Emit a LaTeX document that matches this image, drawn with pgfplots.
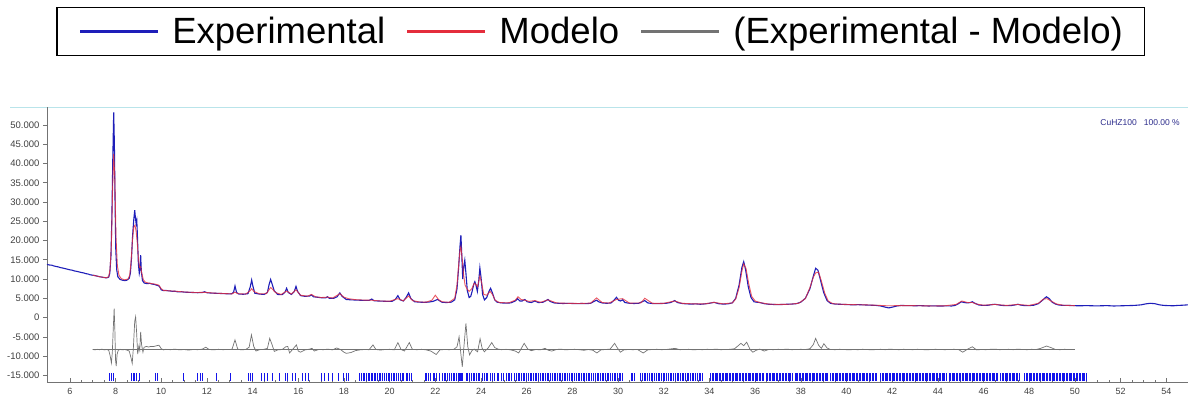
\documentclass[border=0pt]{standalone}
\usepackage{pgfplots}
\usepackage{pgfplotstable}
\pgfplotsset{compat=1.18}
\usepackage{fontspec}
\setmainfont{Liberation Sans}

\definecolor{expblue}{RGB}{30,30,185}
\definecolor{modred}{RGB}{228,45,60}
\definecolor{difgray}{RGB}{115,115,115}
\definecolor{reflblue}{RGB}{20,20,235}
\definecolor{panelcyan}{RGB}{185,228,234}
\definecolor{tagnavy}{RGB}{45,45,140}
\definecolor{legblue}{RGB}{60,70,255}
\definecolor{legred}{RGB}{255,60,60}

% observed pattern (2theta, counts)
\pgfplotstableread{
x y
5.0 13800
5.1 13650
5.2 13600
5.3 13400
5.4 13250
5.5 13150
5.6 12950
5.7 12850
5.8 12700
5.9 12550
6.0 12400
6.1 12300
6.2 12100
6.3 12000
6.4 11850
6.5 11700
6.6 11600
6.7 11400
6.8 11300
6.9 11100
7.0 11000
7.1 10900
7.2 10750
7.3 10600
7.4 10500
7.5 10400
7.6 10300
7.7 10500
7.75 11500
7.8 16000
7.84 26000
7.88 41000
7.92 53300
7.95 45000
7.98 30000
8.01 18000
8.05 12500
8.1 10600
8.2 9900
8.3 9700
8.4 9600
8.5 9700
8.6 10200
8.65 11500
8.7 15500
8.75 21500
8.8 25500
8.84 27900
8.87 26000
8.9 24500
8.93 25300
8.96 21000
9.0 14000
9.04 11500
9.07 12500
9.1 16200
9.13 12000
9.18 9600
9.25 9000
9.3 8900
9.4 8800
9.5 8900
9.6 8700
9.7 8600
9.8 8400
9.9 8200
9.95 7800
10.0 7200
10.1 7000
10.2 7050
10.3 6950
10.4 6900
10.5 6800
10.6 6850
10.7 6700
10.8 6650
10.9 6700
11.0 6600
11.2 6550
11.4 6500
11.6 6450
11.8 6500
11.9 6700
12.0 6450
12.2 6350
12.4 6300
12.6 6250
12.8 6200
13.0 6150
13.1 6200
13.17 6600
13.23 8200
13.3 6500
13.4 6100
13.6 6050
13.8 6200
13.9 8000
13.96 9750
14.02 8000
14.1 6300
14.3 6100
14.5 6000
14.65 6500
14.72 8500
14.79 9900
14.86 8600
14.95 6900
15.1 6000
15.3 5950
15.42 6600
15.49 7600
15.56 6500
15.7 6000
15.82 6700
15.9 8100
15.97 6800
16.1 5700
16.3 5500
16.5 5600
16.58 5900
16.66 5400
16.8 5300
17.0 5150
17.2 5100
17.28 5400
17.36 5000
17.55 5000
17.7 5400
17.82 6400
17.92 5500
18.1 4700
18.3 4600
18.5 4550
18.7 4500
18.9 4450
19.1 4450
19.22 4800
19.32 4350
19.5 4300
19.7 4250
19.9 4200
20.1 4200
20.25 4700
20.36 5700
20.46 4600
20.6 4300
20.72 5200
20.83 6400
20.93 4900
21.1 4100
21.3 4000
21.5 3950
21.7 4000
21.9 4200
22.1 4700
22.2 4300
22.3 3950
22.5 3900
22.7 4000
22.85 4600
22.95 7500
23.02 13000
23.08 18500
23.12 21400
23.16 16000
23.2 10000
23.25 13500
23.29 14900
23.34 11500
23.4 7000
23.48 5200
23.55 5500
23.62 7000
23.68 8600
23.73 9300
23.78 8400
23.84 6800
23.9 9500
23.95 12900
24.0 10500
24.07 6000
24.15 4600
24.25 5200
24.35 6800
24.42 7600
24.5 6400
24.6 4600
24.7 4000
24.9 3800
25.1 3750
25.3 3800
25.5 4300
25.6 4900
25.7 4300
25.8 4300
25.92 4700
26.02 4100
26.2 3900
26.36 4300
26.5 3900
26.7 3950
26.85 4400
26.93 4700
27.02 4200
27.2 3800
27.4 3700
27.6 3650
27.8 3700
28.0 3650
28.2 3600
28.4 3650
28.6 3600
28.8 3700
28.95 4200
29.06 4500
29.15 4100
29.3 3800
29.5 3700
29.7 3800
29.85 4700
29.93 5250
30.02 4500
30.1 4300
30.2 4600
30.3 3900
30.5 3700
30.7 3650
30.9 3700
31.05 4100
31.17 4400
31.3 3800
31.5 3650
31.7 3600
31.9 3650
32.1 3700
32.3 3900
32.48 4400
32.6 3900
32.8 3650
33.0 3550
33.2 3500
33.4 3550
33.6 3450
33.8 3550
34.0 3700
34.2 3950
34.4 3600
34.6 3500
34.8 3550
35.0 3800
35.15 5000
35.3 8500
35.42 13000
35.5 14500
35.58 12500
35.7 8000
35.82 5200
35.95 4100
36.05 4000
36.2 3900
36.4 3600
36.6 3450
36.8 3400
37.0 3350
37.2 3400
37.4 3450
37.6 3500
37.8 3600
38.0 4000
38.2 5000
38.4 7500
38.55 10800
38.65 12800
38.75 12300
38.85 10000
39.0 6500
39.15 4400
39.3 3700
39.5 3500
39.7 3450
39.9 3400
40.1 3350
40.3 3300
40.5 3350
40.7 3300
40.9 3250
41.1 3200
41.3 3150
41.5 3000
41.7 2700
41.85 2500
42.0 2700
42.2 3000
42.4 3150
42.6 3100
42.8 3100
43.0 3050
43.2 3100
43.4 3050
43.6 3000
43.8 3050
44.0 3000
44.2 3000
44.4 3050
44.6 3000
44.75 3150
44.9 3600
45.03 4100
45.15 3900
45.3 3800
45.42 3900
45.51 4100
45.62 3700
45.8 3250
46.0 3150
46.2 3200
46.4 3400
46.5 3450
46.65 3300
46.8 3150
47.0 3100
47.2 3100
47.4 3300
47.5 3450
47.62 3250
47.8 3100
48.0 3100
48.2 3200
48.4 3600
48.6 4600
48.75 5400
48.88 4900
49.0 4000
49.15 3500
49.3 3250
49.5 3150
49.7 3150
49.9 3100
50.2 3050
50.5 3100
50.8 3050
51.1 3050
51.4 3100
51.7 3000
52.0 3050
52.3 3100
52.6 3150
52.9 3300
53.1 3550
53.3 3700
53.5 3600
53.7 3300
53.9 3150
54.1 3100
54.3 3050
54.5 3150
54.7 3200
54.95 3300
}\expdata

% calculated pattern
\pgfplotstableread{
x y
7.0 11000
7.2 10750
7.4 10500
7.6 10350
7.7 10600
7.76 12500
7.82 19000
7.87 33000
7.92 42500
7.97 36000
8.02 21000
8.08 13500
8.15 11000
8.25 10100
8.4 9800
8.55 10000
8.62 11000
8.68 14500
8.74 20000
8.8 23500
8.85 24000
8.9 22500
8.95 19500
9.0 15500
9.05 13000
9.1 13200
9.15 11500
9.22 9800
9.3 9200
9.45 8950
9.6 8800
9.75 8650
9.9 8400
10.0 7500
10.1 7050
10.3 6950
10.6 6850
11.0 6650
11.5 6500
11.9 6550
12.3 6350
12.7 6250
13.1 6150
13.23 6600
13.35 6200
13.7 6100
13.9 7000
13.96 7500
14.05 6800
14.3 6150
14.6 6200
14.72 7200
14.79 7800
14.88 7300
15.0 6500
15.25 6000
15.49 6900
15.7 6100
15.9 7200
16.1 5800
16.4 5550
16.58 6000
16.75 5400
17.0 5200
17.28 5300
17.5 5050
17.82 6200
18.0 5300
18.2 4900
18.5 4650
18.8 4550
19.22 4500
19.6 4300
20.0 4250
20.36 4900
20.6 4350
20.83 5600
21.0 4400
21.3 4050
21.6 4000
21.85 4500
22.0 5800
22.15 4600
22.3 4100
22.6 3950
22.85 5000
22.95 8500
23.02 13500
23.08 17500
23.12 18400
23.18 15000
23.24 11000
23.3 8500
23.38 7500
23.48 6800
23.6 7500
23.7 8900
23.78 8600
23.85 8000
23.95 10800
24.03 9000
24.12 6000
24.25 5800
24.4 6800
24.5 6000
24.62 4500
24.8 3900
25.2 3800
25.5 4500
25.62 5400
25.75 4700
25.92 4500
26.1 4200
26.36 4400
26.6 3950
26.93 4600
27.3 3800
27.8 3700
28.3 3650
28.8 3750
29.06 5100
29.3 3900
29.6 3750
29.93 4700
30.2 4900
30.5 3750
31.0 3800
31.17 5000
31.5 3700
32.0 3700
32.48 4300
32.8 3700
33.3 3550
33.8 3550
34.2 3950
34.6 3550
35.0 3800
35.15 4800
35.3 7800
35.42 12000
35.5 13900
35.6 12800
35.72 8800
35.85 5500
36.0 4300
36.2 3900
36.6 3500
37.0 3400
37.5 3450
37.9 3700
38.2 4900
38.4 7800
38.55 10500
38.65 11600
38.78 11800
38.9 9500
39.05 6300
39.2 4300
39.4 3600
39.8 3450
40.3 3350
40.8 3300
41.3 3200
41.8 3050
42.3 3100
42.8 3100
43.3 3050
43.8 3000
44.3 3050
44.8 3400
45.05 4300
45.3 3900
45.51 3900
45.7 3500
46.0 3200
46.5 3400
47.0 3150
47.5 3400
48.0 3150
48.4 3700
48.62 4800
48.78 4900
48.95 4300
49.2 3500
49.5 3200
50.0 3100
}\moddata

% difference curve, shifted down by 8300
\pgfplotstableread{
x y
7.0 -8300
7.1 -8400
7.2 -8250
7.3 -8350
7.4 -8200
7.5 -8400
7.6 -8300
7.7 -8450
7.76 -9800
7.82 -11800
7.86 -9000
7.9 -3000
7.94 2300
7.97 -3000
8.0 -11000
8.03 -12600
8.07 -9500
8.12 -8500
8.2 -8250
8.3 -8400
8.4 -8300
8.5 -8450
8.6 -8700
8.68 -10500
8.73 -11900
8.78 -8000
8.84 -1000
8.88 200
8.92 -3500
8.97 -9500
9.02 -7500
9.06 -8500
9.1 -3700
9.14 -7000
9.2 -9000
9.25 -7700
9.35 -7500
9.45 -7650
9.55 -7500
9.65 -7550
9.75 -7400
9.85 -7250
9.9 -7200
9.95 -7600
10.0 -8100
10.1 -8400
10.2 -8250
10.4 -8350
10.6 -8200
10.8 -8400
11.0 -8300
11.2 -8450
11.4 -8300
11.6 -8350
11.8 -8200
11.95 -7700
12.1 -8300
12.3 -8400
12.5 -8250
12.7 -8350
12.9 -8300
13.1 -8250
13.23 -5800
13.35 -8200
13.5 -8400
13.7 -8300
13.85 -7700
13.95 -4500
14.05 -7500
14.15 -8700
14.3 -8350
14.5 -8250
14.65 -8000
14.75 -5400
14.85 -7000
14.95 -8800
15.1 -8400
15.3 -8300
15.45 -7600
15.54 -7500
15.62 -9200
15.75 -8300
15.92 -7100
16.0 -8700
16.1 -9000
16.3 -8400
16.5 -8200
16.6 -8000
16.7 -8700
16.9 -8300
17.1 -8350
17.3 -8200
17.5 -8400
17.68 -7900
17.85 -8300
18.0 -9000
18.1 -9300
18.3 -9100
18.5 -8600
18.7 -8400
18.9 -8300
19.1 -8350
19.27 -7100
19.4 -8300
19.6 -8450
19.8 -8300
20.0 -8250
20.2 -8400
20.36 -6500
20.5 -8300
20.65 -8700
20.86 -6500
21.0 -8300
21.2 -8350
21.4 -8250
21.6 -8400
21.8 -8700
22.04 -9600
22.2 -8400
22.4 -8300
22.6 -8350
22.8 -8300
22.95 -7600
23.04 -5000
23.12 -9500
23.18 -12800
23.26 -7000
23.34 -1500
23.42 -7500
23.5 -9700
23.6 -8600
23.7 -8200
23.85 -8900
23.96 -5500
24.05 -8000
24.15 -8900
24.3 -8000
24.47 -6500
24.6 -7800
24.75 -8200
24.9 -8350
25.1 -8250
25.3 -8400
25.5 -8700
25.65 -9200
25.89 -6700
26.05 -8200
26.2 -8600
26.4 -8300
26.6 -8400
26.8 -8000
26.95 -8500
27.1 -8700
27.3 -8300
27.5 -8200
27.7 -8400
27.9 -8300
28.1 -8250
28.3 -8350
28.5 -8500
28.7 -8300
28.9 -8500
29.07 -9200
29.25 -8400
29.45 -8300
29.65 -8200
29.85 -6700
29.95 -7700
30.1 -9000
30.25 -8400
30.45 -8300
30.65 -8350
30.85 -8300
31.1 -9200
31.3 -8400
31.5 -8300
31.7 -8250
31.9 -8350
32.1 -8300
32.3 -8150
32.5 -8000
32.7 -8350
32.9 -8300
33.1 -8250
33.3 -8400
33.5 -8300
33.7 -8350
33.9 -8250
34.1 -8300
34.3 -8200
34.5 -8350
34.7 -8300
34.9 -8250
35.1 -8100
35.38 -6700
35.5 -7300
35.63 -6400
35.78 -8300
35.9 -9000
36.05 -8500
36.2 -8200
36.4 -8700
36.6 -8300
36.8 -8350
37.0 -8250
37.2 -8300
37.4 -8200
37.6 -8350
37.8 -8300
38.0 -8250
38.2 -8300
38.4 -8100
38.55 -7000
38.65 -5400
38.78 -7200
38.9 -8000
39.01 -6800
39.15 -7900
39.3 -8300
39.5 -8350
39.7 -8250
39.9 -8300
40.1 -8400
40.3 -8300
40.5 -8350
40.7 -8250
40.9 -8300
41.1 -8400
41.3 -8300
41.5 -8250
41.7 -8350
41.9 -8200
42.1 -8300
42.3 -8350
42.5 -8250
42.7 -8300
42.9 -8350
43.1 -8250
43.3 -8300
43.5 -8400
43.7 -8300
43.9 -8250
44.1 -8300
44.3 -8350
44.5 -8300
44.7 -8250
44.9 -8300
45.09 -9000
45.3 -8200
45.51 -7600
45.7 -8400
45.9 -8300
46.1 -8350
46.3 -8250
46.5 -8200
46.7 -8350
46.9 -8300
47.1 -8250
47.3 -8350
47.5 -8200
47.7 -8300
47.9 -8350
48.1 -8250
48.3 -8300
48.5 -8000
48.76 -7400
48.95 -7800
49.15 -8300
49.35 -8350
49.55 -8250
49.75 -8300
50.0 -8300
}\difdata

\begin{document}
\begin{tikzpicture}
\useasboundingbox (0,0) rectangle (1188pt,400pt);
\draw[panelcyan, line width=1pt] (10pt,293pt) -- (1188pt,293pt);
\begin{axis}[
  at={(47pt,18pt)}, anchor=south west,
  width=1141pt, height=275pt, scale only axis,
  xmin=5, xmax=54.95, ymin=-16740, ymax=54680,
  scaled x ticks=false, scaled y ticks=false,
  axis x line*=bottom, axis y line*=left,
  axis line style={-, draw=black!55, line width=0.8pt},
  xtick={6,8,...,54},
  xticklabels={6,8,10,12,14,16,18,20,22,24,26,28,30,32,34,36,38,40,42,44,46,48,50,52,54},
  minor x tick num=3,
  ytick={-15000,-10000,...,50000},
  yticklabels={-15.000,-10.000,-5.000,0,5.000,10.000,15.000,20.000,25.000,30.000,35.000,40.000,45.000,50.000},
  xtick align=inside, ytick align=outside,
  major tick length=4pt, minor tick length=2.5pt,
  tick style={black!55, line width=0.6pt},
  xticklabel style={font=\fontsize{9}{10}\selectfont, text=black!75, yshift=-3pt},
  yticklabel style={font=\fontsize{9.5}{10}\selectfont, text=black!75},
  legend style={at={(rel axis cs:0.4855,1.1855)}, anchor=south,
    draw=black, line width=1.2pt, fill=white,
    font=\fontsize{36.5}{40}\selectfont, legend columns=3,
    inner xsep=22pt, inner ysep=10pt, nodes={inner sep=0pt},
    /tikz/every odd column/.append style={column sep=13pt},
    /tikz/every even column/.append style={column sep=21pt}},
  legend image code/.code={\draw[#1, line width=2.2pt, opacity=1] (0pt,0pt) -- (78pt,0pt);},
]
\addplot[expblue, line width=1.1pt] table {\expdata};
\addlegendentry{Experimental}
\addplot[modred, line width=0.9pt, opacity=0.8] table {\moddata};
\addlegendentry{Modelo}
\addplot[difgray, line width=0.7pt] table {\difdata};
\addlegendentry{(Experimental - Modelo)}
\addplot[difgray, line width=0.6pt, forget plot] coordinates {(7.0,-8300) (50.0,-8300)};
% Bragg reflection positions
\addplot[reflblue, only marks, mark=|, mark size=3.85pt, mark options={line width=1pt, solid}, forget plot] coordinates {
(7.73,-15500) (7.81,-15500) (7.89,-15500) (8.71,-15500) (8.78,-15500) (8.85,-15500) (8.93,-15500) (9.07,-15500)
(9.77,-15500) (9.84,-15500) (10.97,-15500) (11.6,-15500) (11.7,-15500) (11.82,-15500) (12.4,-15500) (13.04,-15500)
(13.8,-15500) (13.91,-15500) (14.0,-15500) (14.38,-15500) (14.5,-15500) (14.67,-15500) (14.87,-15500) (15.17,-15500)
(15.42,-15500) (15.54,-15500) (15.76,-15500) (15.87,-15500) (16.17,-15500) (16.31,-15500) (16.44,-15500) (17.01,-15500)
(17.14,-15500) (17.31,-15500) (17.48,-15500) (17.77,-15500) (17.98,-15500) (18.1,-15500) (18.22,-15500)
(18.7,-15500) (18.78,-15500) (18.84,-15500) (18.92,-15500) (19.0,-15500) (19.06,-15500) (19.13,-15500) (19.2,-15500)
(19.27,-15500) (19.33,-15500) (19.4,-15500) (19.47,-15500) (19.55,-15500) (19.62,-15500) (19.7,-15500) (19.78,-15500)
(19.85,-15500) (19.93,-15500) (20.0,-15500) (20.08,-15500) (20.15,-15500) (20.23,-15500) (20.3,-15500) (20.4,-15500)
(20.48,-15500) (20.55,-15500) (20.62,-15500) (20.72,-15500) (20.8,-15500) (20.88,-15500) (20.95,-15500)
(21.55,-15500) (21.63,-15500) (21.72,-15500) (21.8,-15500) (21.9,-15500) (21.98,-15500) (22.07,-15500) (22.2,-15500)
(22.3,-15500) (22.38,-15500) (22.46,-15500) (22.55,-15500) (22.62,-15500) (22.7,-15500) (22.78,-15500) (22.85,-15500)
(22.92,-15500) (23.0,-15500) (23.05,-15500) (23.1,-15500) (23.13,-15500) (23.17,-15500) (23.2,-15500) (23.35,-15500)
(23.42,-15500) (23.5,-15500) (23.57,-15500) (23.65,-15500) (23.72,-15500) (23.8,-15500) (23.88,-15500) (23.95,-15500)
(24.05,-15500) (24.15,-15500) (24.22,-15500) (24.3,-15500) (24.4,-15500) (24.5,-15500) (24.6,-15500) (24.7,-15500)
(24.78,-15500) (24.9,-15500) (25.0,-15500) (25.1,-15500) (25.2,-15500) (25.25,-15500) (25.35,-15500) (25.45,-15500)
(25.55,-15500) (25.62,-15500) (25.7,-15500) (25.78,-15500) (25.85,-15500) (25.92,-15500) (26.0,-15500) (26.07,-15500)
(26.15,-15500) (26.22,-15500) (26.3,-15500) (26.38,-15500) (26.45,-15500) (26.52,-15500) (26.6,-15500) (26.67,-15500)
(26.75,-15500) (26.82,-15500) (26.9,-15500) (26.97,-15500) (27.05,-15500) (27.12,-15500) (27.2,-15500) (27.27,-15500)
(27.35,-15500) (27.42,-15500) (27.5,-15500) (27.57,-15500) (27.65,-15500) (27.72,-15500) (27.8,-15500) (27.87,-15500)
(27.95,-15500) (28.02,-15500) (28.1,-15500) (28.17,-15500) (28.25,-15500) (28.32,-15500) (28.4,-15500) (28.47,-15500)
(28.55,-15500) (28.62,-15500) (28.7,-15500) (28.77,-15500) (28.85,-15500) (28.92,-15500)
(29.0,-15500) (29.08,-15500) (29.15,-15500) (29.23,-15500) (29.3,-15500) (29.38,-15500) (29.45,-15500) (29.52,-15500)
(29.6,-15500) (29.68,-15500) (29.75,-15500) (29.83,-15500) (29.9,-15500) (29.98,-15500) (30.05,-15500) (30.12,-15500)
(30.2,-15500) (30.58,-15500) (30.65,-15500) (30.72,-15500) (31.0,-15500) (31.08,-15500) (31.15,-15500) (31.22,-15500)
(31.3,-15500) (31.38,-15500) (31.45,-15500) (31.52,-15500) (31.6,-15500) (31.68,-15500) (31.75,-15500) (31.83,-15500)
(31.9,-15500) (31.98,-15500) (32.05,-15500) (32.12,-15500) (32.2,-15500) (32.28,-15500) (32.35,-15500) (32.42,-15500)
(32.5,-15500) (32.58,-15500) (32.65,-15500) (32.72,-15500) (32.8,-15500) (32.88,-15500) (32.95,-15500) (33.02,-15500)
(33.1,-15500) (33.18,-15500) (33.25,-15500) (33.32,-15500) (33.4,-15500) (33.48,-15500) (33.55,-15500) (33.62,-15500)
(33.7,-15500)
(34.06,-15500) (34.12,-15500) (34.19,-15500) (34.25,-15500) (34.31,-15500) (34.37,-15500) (34.44,-15500) (34.5,-15500)
(34.56,-15500) (34.62,-15500) (34.69,-15500) (34.75,-15500) (34.81,-15500) (34.87,-15500) (34.94,-15500)
(35.0,-15500) (35.06,-15500) (35.12,-15500) (35.19,-15500) (35.25,-15500) (35.31,-15500) (35.37,-15500) (35.44,-15500)
(35.5,-15500) (35.56,-15500) (35.62,-15500) (35.69,-15500) (35.75,-15500) (35.81,-15500) (35.87,-15500) (35.94,-15500)
(36.0,-15500) (36.06,-15500) (36.12,-15500) (36.19,-15500) (36.25,-15500) (36.31,-15500) (36.37,-15500) (36.5,-15500)
(36.56,-15500) (36.62,-15500) (36.69,-15500) (36.75,-15500) (36.81,-15500) (36.87,-15500) (36.94,-15500)
(37.0,-15500) (37.06,-15500) (37.12,-15500) (37.19,-15500) (37.25,-15500) (37.31,-15500) (37.37,-15500) (37.44,-15500)
(37.5,-15500) (37.56,-15500) (37.62,-15500) (37.75,-15500) (37.81,-15500) (37.87,-15500) (37.94,-15500)
(38.0,-15500) (38.06,-15500) (38.12,-15500) (38.19,-15500) (38.25,-15500) (38.31,-15500) (38.37,-15500) (38.44,-15500)
(38.5,-15500) (38.56,-15500) (38.62,-15500) (38.69,-15500) (38.75,-15500) (38.81,-15500) (38.87,-15500) (38.94,-15500)
(39.0,-15500) (39.06,-15500) (39.12,-15500) (39.19,-15500) (39.31,-15500) (39.37,-15500) (39.44,-15500) (39.5,-15500)
(39.56,-15500) (39.62,-15500) (39.69,-15500) (39.75,-15500) (39.81,-15500) (39.87,-15500) (39.94,-15500)
(40.0,-15500) (40.06,-15500) (40.12,-15500) (40.19,-15500) (40.25,-15500) (40.31,-15500) (40.37,-15500) (40.44,-15500)
(40.5,-15500) (40.56,-15500) (40.62,-15500) (40.69,-15500) (40.75,-15500) (40.81,-15500) (40.87,-15500) (40.94,-15500)
(41.0,-15500) (41.06,-15500) (41.12,-15500) (41.19,-15500) (41.25,-15500) (41.31,-15500) (41.5,-15500) (41.56,-15500)
(41.62,-15500) (41.69,-15500) (41.75,-15500) (41.81,-15500) (41.87,-15500) (41.94,-15500)
(42.0,-15500) (42.06,-15500) (42.12,-15500) (42.19,-15500) (42.25,-15500) (42.31,-15500) (42.37,-15500) (42.44,-15500)
(42.5,-15500) (42.56,-15500) (42.62,-15500) (42.69,-15500) (42.75,-15500) (42.81,-15500) (42.87,-15500) (42.94,-15500)
(43.0,-15500) (43.06,-15500) (43.12,-15500) (43.19,-15500) (43.25,-15500) (43.31,-15500) (43.37,-15500) (43.44,-15500)
(43.5,-15500) (43.56,-15500) (43.62,-15500) (43.69,-15500) (43.75,-15500) (43.81,-15500) (43.87,-15500) (43.94,-15500)
(44.0,-15500) (44.06,-15500) (44.12,-15500) (44.19,-15500) (44.25,-15500) (44.31,-15500) (44.37,-15500) (44.5,-15500)
(44.56,-15500) (44.62,-15500) (44.69,-15500) (44.75,-15500) (44.81,-15500) (44.87,-15500) (44.94,-15500)
(45.0,-15500) (45.06,-15500) (45.12,-15500) (45.19,-15500) (45.25,-15500) (45.31,-15500) (45.37,-15500) (45.44,-15500)
(45.5,-15500) (45.56,-15500) (45.62,-15500) (45.69,-15500) (45.75,-15500) (45.81,-15500) (45.87,-15500) (45.94,-15500)
(46.0,-15500) (46.06,-15500) (46.12,-15500) (46.19,-15500) (46.25,-15500) (46.31,-15500) (46.37,-15500) (46.44,-15500)
(46.5,-15500) (46.56,-15500) (46.62,-15500) (46.75,-15500) (46.81,-15500) (46.87,-15500) (46.94,-15500)
(47.0,-15500) (47.06,-15500) (47.12,-15500) (47.19,-15500) (47.25,-15500) (47.31,-15500) (47.37,-15500) (47.44,-15500)
(47.5,-15500) (47.56,-15500) (47.81,-15500) (47.87,-15500) (47.94,-15500)
(48.0,-15500) (48.06,-15500) (48.12,-15500) (48.19,-15500) (48.25,-15500) (48.31,-15500) (48.37,-15500) (48.44,-15500)
(48.5,-15500) (48.56,-15500) (48.62,-15500) (48.69,-15500) (48.75,-15500) (48.81,-15500) (48.87,-15500) (48.94,-15500)
(49.0,-15500) (49.06,-15500) (49.12,-15500) (49.19,-15500) (49.25,-15500) (49.31,-15500) (49.37,-15500) (49.44,-15500)
(49.5,-15500) (49.56,-15500) (49.62,-15500) (49.69,-15500) (49.75,-15500) (49.81,-15500) (49.87,-15500) (49.94,-15500)
(50.0,-15500) (50.06,-15500) (50.12,-15500) (50.19,-15500) (50.25,-15500) (50.31,-15500) (50.37,-15500) (50.44,-15500)
(50.5,-15500)
};
\node[anchor=east, inner sep=0pt, text=tagnavy, font=\fontsize{8.5}{9}\selectfont] at (rel axis cs:0.993,0.9418) {CuHZ100\ \ \ 100.00 \%};
\end{axis}
\end{tikzpicture}
\end{document}
